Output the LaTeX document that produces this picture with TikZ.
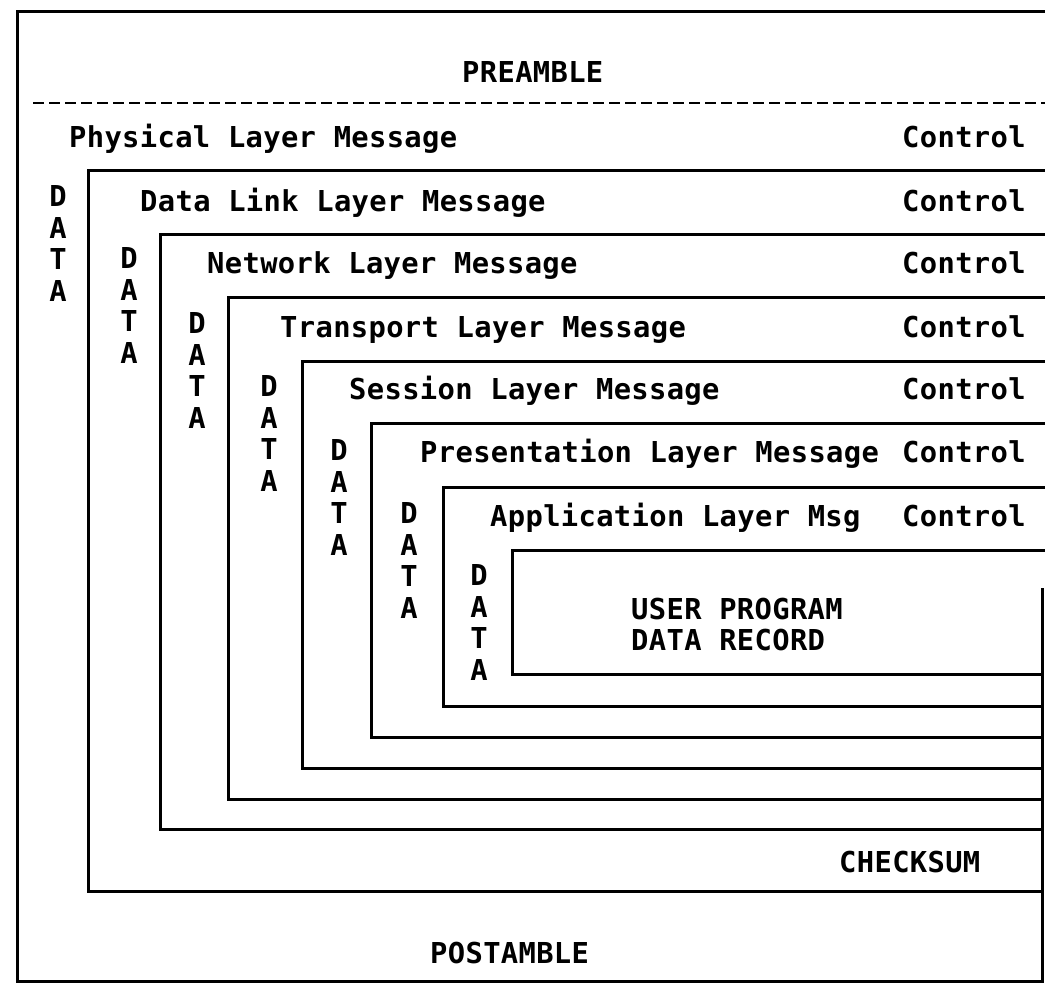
\documentclass[tikz,border=0pt]{standalone}
\usepackage{fontspec}
\newfontfamily\plotfont[LetterSpace=1.2]{DejaVu Sans Mono}
\begin{document}
\begin{tikzpicture}[x=1pt,y=-1pt,
  frame/.style={line width=3pt,line join=miter},
  dashline/.style={line width=2.5pt,dash pattern=on 11pt off 5pt},
  lbl/.style={font={\plotfont\bfseries\fontsize{28.8pt}{31.6pt}\selectfont},
    inner sep=0pt,text height=21pt,text depth=0pt,anchor=west},
  letter/.style={lbl,anchor=center}]
\useasboundingbox (0,0) rectangle (1045,986);
\fill[white] (0,0) rectangle (1045,986);

% outer frame and preamble separator
\draw[frame] (1045,11) -- (17,11) -- (17,981) -- (1042,981) -- (1042,588);
\draw[dashline] (33,103) -- (1045,103);

% nested layer frames, open to the right
\foreach \L/\T/\B in {88/170/891,160/234/829,228/297/799,302/361/768,
                      371/423/737,443/487/706,512/550/674}
  \draw[frame] (1045,\T) -- (\L,\T) -- (\L,\B) -- (1042,\B);

% headings
\node[lbl] (pre) at (462,72) {PREAMBLE};
\node[lbl] (post) at (430,953) {POSTAMBLE};
\node[lbl] (chk) at (839,862) {CHECKSUM};

% layer titles and their control fields
\foreach \x/\y/\t [count=\n] in {69/137/Physical Layer Message,
    140/201/Data Link Layer Message,
    207/263/Network Layer Message,
    280/327/Transport Layer Message,
    349/389/Session Layer Message,
    420/452/Presentation Layer Message,
    490/516/Application Layer Msg}{
  \node[lbl] (title\n) at (\x,\y) {\t};
  \node[lbl] (ctrl\n) at (902,\y) {Control};
}

% vertical DATA columns
\foreach \x/\y [count=\n] in {58/196,129/258,197/323,269/386,339/450,409/513,479/575}
  \foreach \c [count=\k] in {D,A,T,A}
    \node[letter] (data\n-\k) at (\x,{\y+(\k-1)*31.6}) {\c};

% innermost record
\node[lbl] (user) at (631,609) {USER PROGRAM};
\node[lbl] (rec) at (631,640) {DATA RECORD};
\end{tikzpicture}
\end{document}
